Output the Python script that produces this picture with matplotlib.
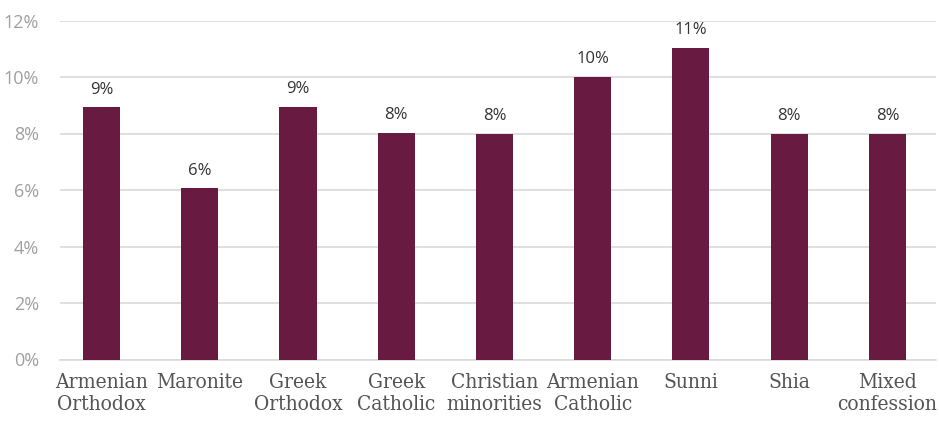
import matplotlib
matplotlib.use("Agg")
import matplotlib.pyplot as plt
from matplotlib.ticker import FuncFormatter

categories = ["Armenian\nOrthodox", "Maronite", "Greek\nOrthodox", "Greek\nCatholic",
              "Christian\nminorities", "Armenian\nCatholic", "Sunni", "Shia", "Mixed\nconfession"]
values = [8.93, 6.06, 8.95, 8.01, 7.98, 10.0, 11.02, 7.98, 7.98]
yticks = [0, 2, 4, 6, 8, 10, 12]

bar_color = "#691A41"
grid_color = "#D9D9D9"

fig = plt.figure(figsize=(9.39, 4.21), dpi=100)
ax = fig.add_axes([60 / 939, 61.5 / 421, 876 / 939, 339 / 421])

x = list(range(len(categories)))
bars = ax.bar(x, values, width=0.377, color=bar_color, zorder=3)

for xi, v in zip(x, values):
    ax.annotate(f"{v:.0f}%", (xi, v), xytext=(0, 7), textcoords="offset points",
                ha="center", va="bottom", fontsize=12, color="#333333",
                family="Open Sans")

ax.set_xlim(-0.4224, 8.494)
ax.set_ylim(0, 12)
ax.set_yticks(yticks)
ax.yaxis.set_major_formatter(FuncFormatter(lambda v, p: f"{v:.0f}%"))
ax.grid(axis="y", color=grid_color, linewidth=1.2, zorder=0)
ax.tick_params(axis="y", length=0, pad=15, labelsize=13, labelcolor="#A0A0A0")
for lbl in ax.get_yticklabels():
    lbl.set_family("Open Sans")

ax.set_xticks(x)
ax.set_xticklabels(categories, family="DejaVu Serif", fontstretch="condensed",
                   fontsize=15, color="#555555", linespacing=1.2)
ax.tick_params(axis="x", length=0, pad=10)

for side in ["top", "right", "left"]:
    ax.spines[side].set_visible(False)
ax.spines["bottom"].set_color(grid_color)
ax.spines["bottom"].set_linewidth(1.2)

fig.savefig("out.png", dpi=100)
